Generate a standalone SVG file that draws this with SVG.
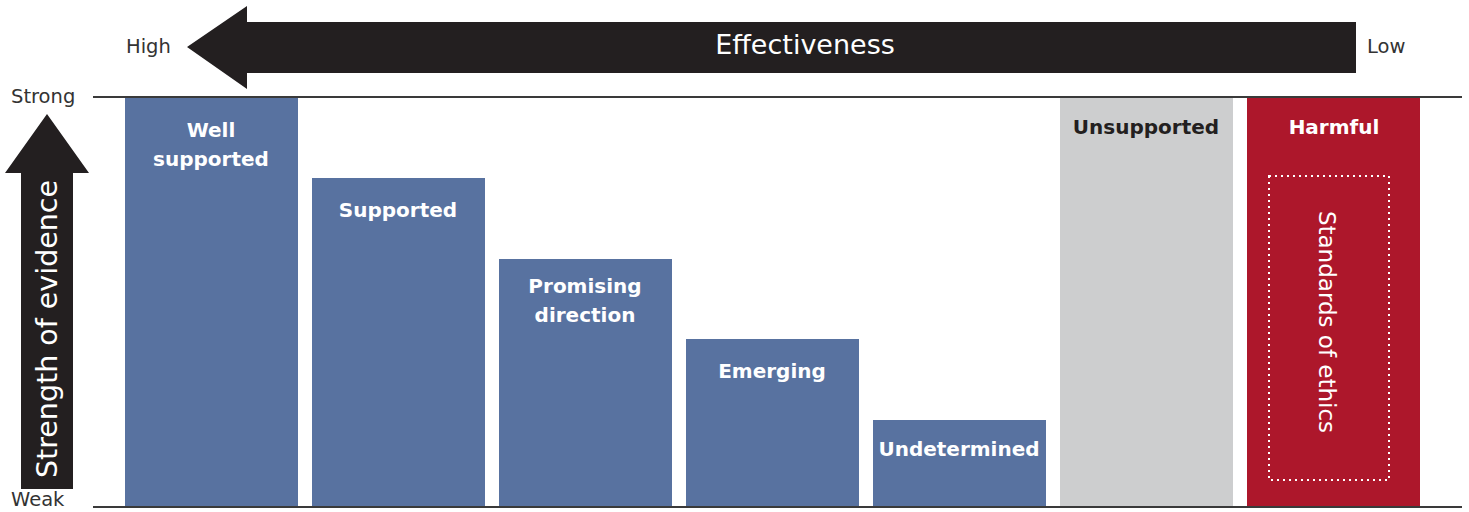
<svg xmlns="http://www.w3.org/2000/svg" width="1469" height="512" viewBox="0 0 1469 512">
<style>
.axis{font-family:"DejaVu Sans","Liberation Sans",sans-serif;font-size:19.5px;fill:#333;}
.lbl{font-family:"DejaVu Sans","Liberation Sans",sans-serif;font-size:20px;font-weight:bold;fill:#fff;text-anchor:middle;}
.big{font-family:"DejaVu Sans","Liberation Sans",sans-serif;fill:#fff;text-anchor:middle;}
.blue{fill:#5872a0;}
.line{stroke:#3a3a3a;stroke-width:2;}
</style>
<rect width="1469" height="512" fill="#fff"/>
<g id="axes">
<line class="line" x1="93" y1="97" x2="1462" y2="97"/>
<line class="line" x1="93" y1="507" x2="1462" y2="507"/>
</g>
<g id="effectiveness-arrow">
<polygon points="187,47 247,6 247,22 1356,22 1356,73 247,73 247,89" fill="#231f20"/>
<text class="big" x="805" y="54" font-size="27">Effectiveness</text>
<text class="axis" x="126" y="53">High</text>
<text class="axis" x="1367" y="53">Low</text>
</g>
<g id="evidence-arrow">
<polygon points="47,114 89,173 73,173 73,489 21,489 21,173 5,173" fill="#231f20"/>
<text class="big" transform="translate(57,329) rotate(-90)" font-size="28.5">Strength of evidence</text>
<text class="axis" x="11" y="103">Strong</text>
<text class="axis" x="11" y="506">Weak</text>
</g>
<g id="well-supported">
<rect class="blue" x="125" y="98" width="173" height="408"/>
<text class="lbl" x="211" y="137">Well</text>
<text class="lbl" x="211" y="166">supported</text>
</g>
<g id="supported">
<rect class="blue" x="312" y="178" width="173" height="328"/>
<text class="lbl" x="398" y="217">Supported</text>
</g>
<g id="promising-direction">
<rect class="blue" x="499" y="259" width="173" height="247"/>
<text class="lbl" x="585" y="293">Promising</text>
<text class="lbl" x="585" y="322">direction</text>
</g>
<g id="emerging">
<rect class="blue" x="686" y="339" width="173" height="167"/>
<text class="lbl" x="772" y="378">Emerging</text>
</g>
<g id="undetermined">
<rect class="blue" x="873" y="420" width="173" height="86"/>
<text class="lbl" x="959" y="456">Undetermined</text>
</g>
<g id="unsupported">
<rect x="1060" y="98" width="173" height="408" fill="#cdcecf"/>
<text class="lbl" x="1146" y="134" style="fill:#231f20">Unsupported</text>
</g>
<g id="harmful">
<rect x="1247" y="98" width="173" height="408" fill="#ad172b"/>
<text class="lbl" x="1334" y="134">Harmful</text>
<rect x="1269" y="176" width="120" height="304" fill="none" stroke="#fff" stroke-width="2" stroke-dasharray="2,4"/>
<text class="big" transform="translate(1319,322) rotate(90)" font-size="23">Standards of ethics</text>
</g>
</svg>
